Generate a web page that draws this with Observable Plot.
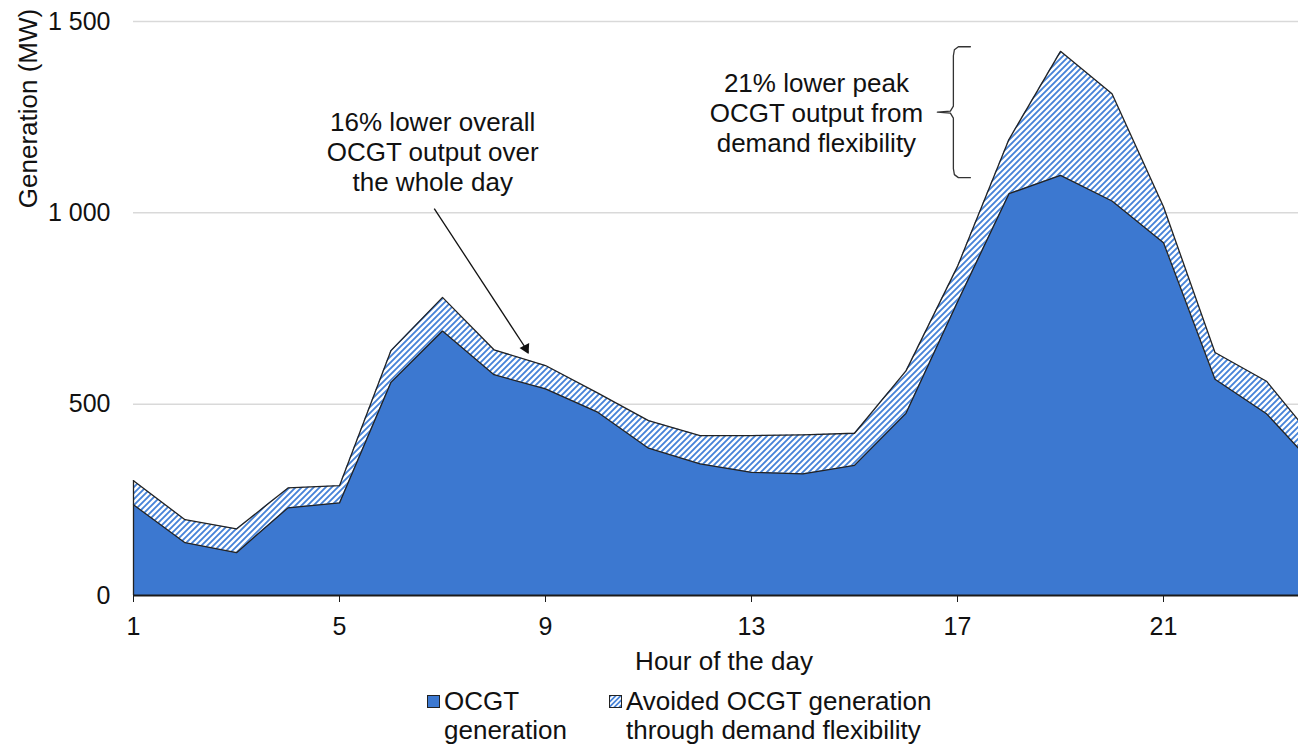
<!DOCTYPE html>
<html>
<head>
<meta charset="utf-8">
<script src="https://cdn.jsdelivr.net/npm/d3@7"></script>
<script src="https://cdn.jsdelivr.net/npm/@observablehq/plot@0.6"></script>
<style>
  body { margin: 0; background: #fff; }
  #wrap { position: relative; width: 1298px; height: 747px; overflow: hidden;
          font-family: "Liberation Sans", Arial, sans-serif; color: #111; background: #fff; }
  #chart svg { display: block; overflow: hidden; }
  #legend { position: absolute; top: 687px; left: 0; width: 1298px; height: 60px;
            font-size: 26px; line-height: 29px; }
  .sw { position: absolute; top: 8px; width: 13px; height: 13px; box-sizing: border-box; border: 1px solid #222; }
  .lt { position: absolute; top: 0; white-space: nowrap; }
</style>
</head>
<body>
<div id="wrap"><div id="chart"></div><div id="legend"></div></div>
<script>
// ---- data ----
const hours = [1, 2, 3, 4, 5, 6, 7, 8, 9, 10, 11, 12, 13, 14, 15, 16, 17, 18, 19, 20, 21, 22, 23, 24];
const ocgtGeneration = [237, 138, 112, 229, 242, 557, 691, 577, 540, 480, 385, 344, 322, 318, 340, 476, 767, 1050, 1098, 1031, 922, 565, 475, 330];
const withoutFlexibility = [300, 198, 174, 281, 287, 640, 779, 642, 601, 530, 457, 418, 418, 420, 424, 587, 860, 1192, 1422, 1311, 1016, 635, 560, 395];
const xTicks = [1, 5, 9, 13, 17, 21];
const yTicks = [0, 500, 1000, 1500];
const xLabel = "Hour of the day";
const yLabel = "Generation (MW)";
const legendLabels = [["OCGT", "generation"], ["Avoided OCGT generation", "through demand flexibility"]];
const noteOverall = "16% lower overall\nOCGT output over\nthe whole day";
const notePeak = "21% lower peak\nOCGT output from\ndemand flexibility";
// annotation anchors (hour, MW)
const noteOverallAt = {hour: 6.81, value: 1160};
const arrowFrom = {hour: 6.84, value: 1011};
const arrowTo = {hour: 8.67, value: 635};
const braceHour = 16.92;
const peakNoteHour = 14.26;

const rows = hours.map((h, i) => ({hour: h, ocgt: ocgtGeneration[i], total: withoutFlexibility[i]}));

const blue = "#3c78d0";
const hatchBlue = "#4582d8";
const ink = "#111";
const pxPerHour = (1317.5 - 133) / 23;
const pxPerMW = (595 - 21) / 1500;

// brace around the evening peak
const iPeak = d3.maxIndex(withoutFlexibility);
const T = withoutFlexibility[iPeak] + 12;
const B = ocgtGeneration[iPeak] - 6;
const M = (T + B) / 2;
const P = (dx, v, dy) => ({hour: braceHour + dx / pxPerHour, value: v - dy / pxPerMW});
const brace = [
  P(17, T, 0), P(5, T, 0), P(1, T, 3), P(0, T, 9),
  P(0, M, -6), P(-3, M, -1), P(-16, M, 0), P(-3, M, 1), P(0, M, 6),
  P(0, B, -9), P(1, B, -3), P(5, B, 0), P(17, B, 0)
];

// arrow head angle
const adx = (arrowTo.hour - arrowFrom.hour) * pxPerHour;
const ady = (arrowFrom.value - arrowTo.value) * pxPerMW;
const alen = Math.hypot(adx, ady);
const angle = Math.atan2(adx, ady) * 180 / Math.PI; // clockwise from up
const headBack = 5;

const fmt = d => d3.format(",")(d).replace(/,/g, " ");

const chart = Plot.plot({
  width: 1298,
  height: 680,
  marginLeft: 133,
  marginRight: 0,
  marginTop: 21,
  marginBottom: 85,
  x: {domain: [1, 24], range: [133, 1317.5]},
  y: {domain: [0, 1500], range: [595, 21]},
  style: {fontFamily: "'Liberation Sans', Arial, sans-serif", fontSize: "25px", color: ink, background: "#fff", overflow: "hidden"},
  marks: [
    Plot.gridY(yTicks.filter(d => d > 0), {stroke: "#d9d9d9", strokeOpacity: 1, strokeWidth: 1.5}),
    Plot.areaY(rows, {x: "hour", y1: "ocgt", y2: "total", fill: "url(#hatch)"}),
    Plot.areaY(rows, {x: "hour", y1: 0, y2: "ocgt", fill: blue}),
    Plot.line(rows, {x: "hour", y: "total", stroke: "#222", strokeWidth: 1.3}),
    Plot.line(rows, {x: "hour", y: "ocgt", stroke: "#222", strokeWidth: 1.3}),
    Plot.ruleX([rows[0]], {x: "hour", y1: 0, y2: "total", stroke: "#222", strokeWidth: 1.3}),
    Plot.ruleY([0], {stroke: "#1a1a1a", strokeWidth: 2}),
    Plot.axisX({ticks: xTicks, tickSize: 7, tickPadding: 15, fontSize: 25, label: null, stroke: "#1a1a1a"}),
    Plot.axisY({ticks: yTicks, tickSize: 0, tickPadding: 23, tickFormat: fmt, fontSize: 25, label: null}),
    Plot.text([xLabel], {text: d => d, frameAnchor: "bottom", dx: 8, dy: 66, fontSize: 26, lineAnchor: "middle", fill: ink}),
    Plot.text([yLabel], {text: d => d, frameAnchor: "top-left", rotate: -90, dx: -105, dy: 87, fontSize: 26, textAnchor: "middle", lineAnchor: "middle", fill: ink}),
    Plot.text([{...noteOverallAt, text: noteOverall}], {x: "hour", y: "value", text: "text", fontSize: 26, lineHeight: 1.15, textAnchor: "middle", lineAnchor: "middle", fill: ink}),
    Plot.text([{hour: peakNoteHour, value: M, text: notePeak}], {x: "hour", y: "value", text: "text", fontSize: 26, lineHeight: 1.15, textAnchor: "middle", lineAnchor: "middle", fill: ink}),
    Plot.line(brace, {x: "hour", y: "value", stroke: "#333", strokeWidth: 1.3}),
    Plot.link([{a: arrowFrom, b: arrowTo}], {x1: d => d.a.hour, y1: d => d.a.value, x2: d => d.b.hour, y2: d => d.b.value, stroke: ink, strokeWidth: 1.3}),
    Plot.dot([arrowTo], {x: "hour", y: "value", symbol: "triangle", r: 4, fill: ink, stroke: "none", rotate: angle,
      dx: -adx / alen * headBack, dy: -ady / alen * headBack})
  ]
});

const svg = chart.tagName.toLowerCase() === "svg" ? chart : chart.querySelector("svg");
const defs = document.createElementNS("http://www.w3.org/2000/svg", "defs");
defs.innerHTML = `<pattern id="hatch" patternUnits="userSpaceOnUse" width="6" height="6">
  <rect width="6" height="6" fill="${hatchBlue}"/>
  <path d="M-1,1 L1,-1 M0,6 L6,0 M5,7 L7,5" stroke="#fff" stroke-width="2.4"/>
</pattern>`;
svg.insertBefore(defs, svg.firstChild);
document.getElementById("chart").appendChild(chart);

// legend below the chart
const legend = document.getElementById("legend");
legend.innerHTML = `
  <div class="sw" style="left:427px;background:${blue}"></div>
  <div class="lt" style="left:444px">${legendLabels[0].join("<br>")}</div>
  <svg class="sw" style="left:609px;padding:0;border:none" width="13" height="13">
    <defs><pattern id="hatch2" patternUnits="userSpaceOnUse" width="5" height="5">
      <rect width="5" height="5" fill="${hatchBlue}"/>
      <path d="M-1,1 L1,-1 M0,5 L5,0 M4,6 L6,4" stroke="#fff" stroke-width="1.8"/>
    </pattern></defs>
    <rect x="0.5" y="0.5" width="12" height="12" fill="url(#hatch2)" stroke="#222" stroke-width="1"/>
  </svg>
  <div class="lt" style="left:626px">${legendLabels[1].join("<br>")}</div>`;
</script>
</body>
</html>
